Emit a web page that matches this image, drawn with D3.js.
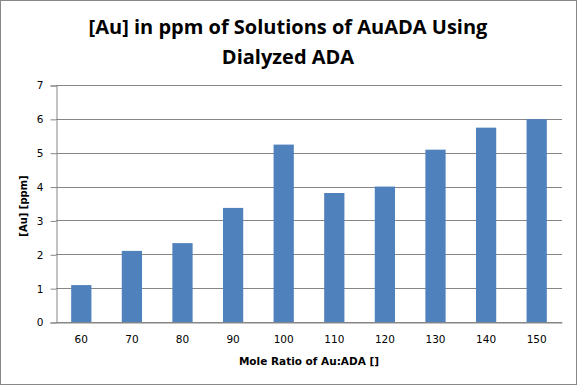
<!DOCTYPE html>
<html>
<head>
<meta charset="utf-8">
<script src="https://cdn.jsdelivr.net/npm/d3@7"></script>
<style>
  body { margin: 0; background: #fff; }
  text { font-family: "DejaVu Sans", Verdana, sans-serif; }
</style>
</head>
<body>
<script>
// chart data
var ratios = ['60', '70', '80', '90', '100', '110', '120', '130', '140', '150'];
var gold = [1.09, 2.1, 2.33, 3.37, 5.24, 3.81, 4.0, 5.09, 5.74, 5.99];
var yTicks = [0, 1, 2, 3, 4, 5, 6, 7];

var width = 577;
var height = 385;
var margin = {top: 85, right: 15, bottom: 63, left: 56};

var svg = d3.select('body').append('svg')
  .attr('width', width)
  .attr('height', height);

// outer frame
svg.append('rect')
  .attr('x', 0.5).attr('y', 0.5)
  .attr('width', width - 1).attr('height', height - 1)
  .attr('fill', '#fff')
  .attr('stroke', '#888');

var x = d3.scaleBand()
  .domain(ratios)
  .range([margin.left, width - margin.right])
  .paddingInner(0.6)
  .paddingOuter(0.3);

var y = d3.scaleLinear()
  .domain([0, 7])
  .range([height - margin.bottom, margin.top]);

// gridlines
svg.append('g')
  .selectAll('line')
  .data(yTicks)
  .enter().append('line')
  .attr('x1', margin.left)
  .attr('x2', width - margin.right)
  .attr('y1', function(d){ return Math.round(y(d)) + 0.5; })
  .attr('y2', function(d){ return Math.round(y(d)) + 0.5; })
  .attr('stroke', '#868686');

// y axis
var yAxis = svg.append('g')
  .attr('transform', 'translate(' + (margin.left + 0.5) + ',0.5)')
  .call(d3.axisLeft(y).tickValues(yTicks).tickFormat(d3.format('d')).tickSize(6).tickPadding(7));
yAxis.selectAll('path, line').attr('stroke', '#868686');
yAxis.selectAll('text').attr('font-size', 10.5).attr('fill', '#000')
  .style('font-family', 'DejaVu Sans');

// bars
svg.append('g')
  .selectAll('rect')
  .data(gold)
  .enter().append('rect')
  .attr('x', function(d, i){ return x(ratios[i]); })
  .attr('y', function(d){ return y(d); })
  .attr('width', x.bandwidth())
  .attr('height', function(d){ return y(0) - y(d); })
  .attr('fill', '#4f81bd');

// x axis
var xAxis = svg.append('g')
  .attr('transform', 'translate(0,' + (Math.round(y(0)) + 0.5) + ')')
  .call(d3.axisBottom(x).tickSize(0).tickPadding(13));
xAxis.select('path').attr('stroke', '#868686');
xAxis.selectAll('text').attr('font-size', 10.5).attr('fill', '#000')
  .style('font-family', 'DejaVu Sans');

// axis titles
svg.append('text')
  .attr('x', (margin.left + width - margin.right) / 2)
  .attr('y', 365)
  .attr('text-anchor', 'middle')
  .attr('font-size', 10.5)
  .attr('font-weight', 'bold')
  .text('Mole Ratio of Au:ADA []');

svg.append('text')
  .attr('transform', 'translate(27,206) rotate(-90)')
  .attr('text-anchor', 'middle')
  .attr('font-size', 10)
  .attr('font-weight', 'bold')
  .text('[Au] [ppm]');

// title
var title = svg.append('text')
  .attr('text-anchor', 'middle')
  .attr('font-size', 20)
  .attr('font-weight', 'bold')
  .style('font-family', '"Open Sans", sans-serif');
title.append('tspan').attr('x', 288).attr('y', 34).text('[Au] in ppm of Solutions of AuADA Using');
title.append('tspan').attr('x', 288).attr('y', 64).text('Dialyzed ADA');
</script>
</body>
</html>
